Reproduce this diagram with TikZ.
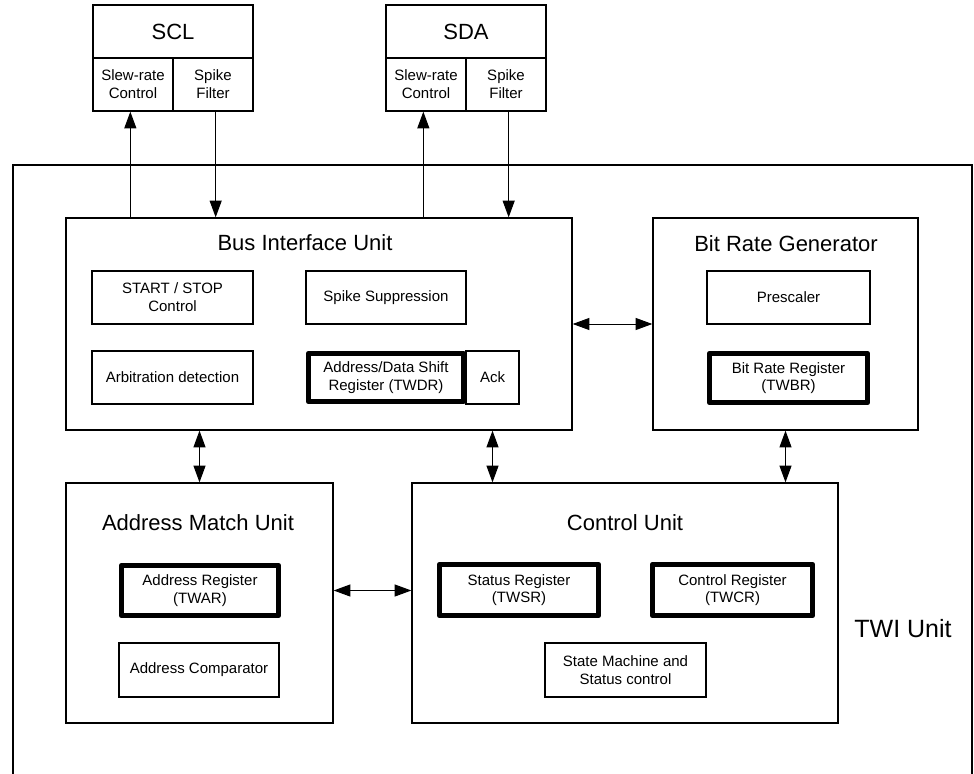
\documentclass[tikz,border=0pt]{standalone}
\usepackage{fontspec}
\setmainfont{Liberation Sans}
\usetikzlibrary{arrows.meta, positioning, calc}

\begin{document}
\begin{tikzpicture}[x=0.75pt, y=-0.75pt, >={Triangle[length=12.5pt, width=9pt]},
  box/.style 2 args={draw, line width=1pt, inner sep=0pt, align=center,
    minimum width=#1*0.75pt, minimum height=#2*0.75pt,
    font=\fontsize{11.25}{13.3}\selectfont},
  reg/.style 2 args={box={#1}{#2}, line width=4pt, line join=round},
  unit/.style 2 args={draw, line width=1pt, inner sep=0pt,
    minimum width=#1*0.75pt, minimum height=#2*0.75pt},
  pad/.style={box={160}{53}, font=\fontsize{16.5}{19}\selectfont},
  title/.style={inner sep=0pt, font=\fontsize{16.5}{20}\selectfont},
  link/.style={line width=0.75pt}]
  \useasboundingbox (0,0) rectangle (974,774);

  % TWI unit frame, open at the bottom
  \draw[line width=1pt] (13,776) |- (972,165) -- (972,776);
  \node[inner sep=0pt, font=\fontsize{18.75}{22}\selectfont] (twi) at (903,629) {TWI Unit};

  % units
  \node[unit={506}{212}] (biu) at (319,324) {};
  \node[unit={265}{212}] (brg) at (785.5,324) {};
  \node[unit={267}{240}] (amu) at (199.5,603) {};
  \node[unit={426}{240}] (cu) at (625,603) {};
  \node[title] (biutitle) at (305,243) {Bus Interface Unit};
  \node[title] (brgtitle) at (786,244) {Bit Rate Generator};
  \node[title] (amutitle) at (198,523) {Address Match Unit};
  \node[title] (cutitle) at (625,523) {Control Unit};

  % bus interface unit
  \node[box={161}{53}] (startstop) at (172.5,297.5) {START / STOP\\Control};
  \node[box={160}{53}] (spikesup) at (386,297.5) {Spike Suppression};
  \node[box={161}{53}] (arbit) at (172.5,377.5) {Arbitration detection};
  \node[reg={155}{48}] (twdr) at (386,377.5) {Address/Data Shift\\Register (TWDR)};
  \node[box={53}{53}] (ack) at (492.5,377.5) {Ack};

  % bit rate generator
  \node[box={163}{53}] (prescaler) at (788.5,297.5) {Prescaler};
  \node[reg={158}{49}] (twbr) at (788.5,378) {Bit Rate Register\\(TWBR)};

  % address match unit
  \node[reg={157}{50}] (twar) at (200,590.5) {Address Register\\(TWAR)};
  \node[box={160}{54}] (addrcmp) at (199,670) {Address Comparator};

  % control unit
  \node[reg={159}{51}] (twsr) at (519,590) {Status Register\\(TWSR)};
  \node[reg={160}{51}] (twcr) at (732.5,590) {Control Register\\(TWCR)};
  \node[box={161}{54}] (fsm) at (625.5,670) {State Machine and\\Status control};

  % SCL and SDA pads
  \foreach \pad/\name/\px in {scl/SCL/93, sda/SDA/386} {
    \node[pad] (\pad) at (\px+80,31.5) {\name};
    \node[box={80}{53}] (slew\pad) at (\px+40,84.5) {Slew-rate\\Control};
    \node[box={80}{53}] (spike\pad) at (\px+120,84.5) {Spike\\Filter};
    \draw[link, ->] ([xshift=-2pt]slew\pad.south |- biu.north) -- ([xshift=-2pt]slew\pad.south);
    \draw[link, ->] ([xshift=2pt]spike\pad.south) -- ([xshift=2pt]spike\pad.south |- biu.north);
  }

  % links between units
  \draw[link, <->] (biu.east) -- (brg.west);
  \draw[link, <->] (amu.north |- biu.south) -- (amu.north);
  \draw[link, <->] (ack.south |- biu.south) -- (ack.south |- cu.north);
  \draw[link, <->] (brg.south) -- (brg.south |- cu.north);
  \draw[link, <->] (amu.east |- twar) -- (cu.west |- twar);
\end{tikzpicture}
\end{document}
